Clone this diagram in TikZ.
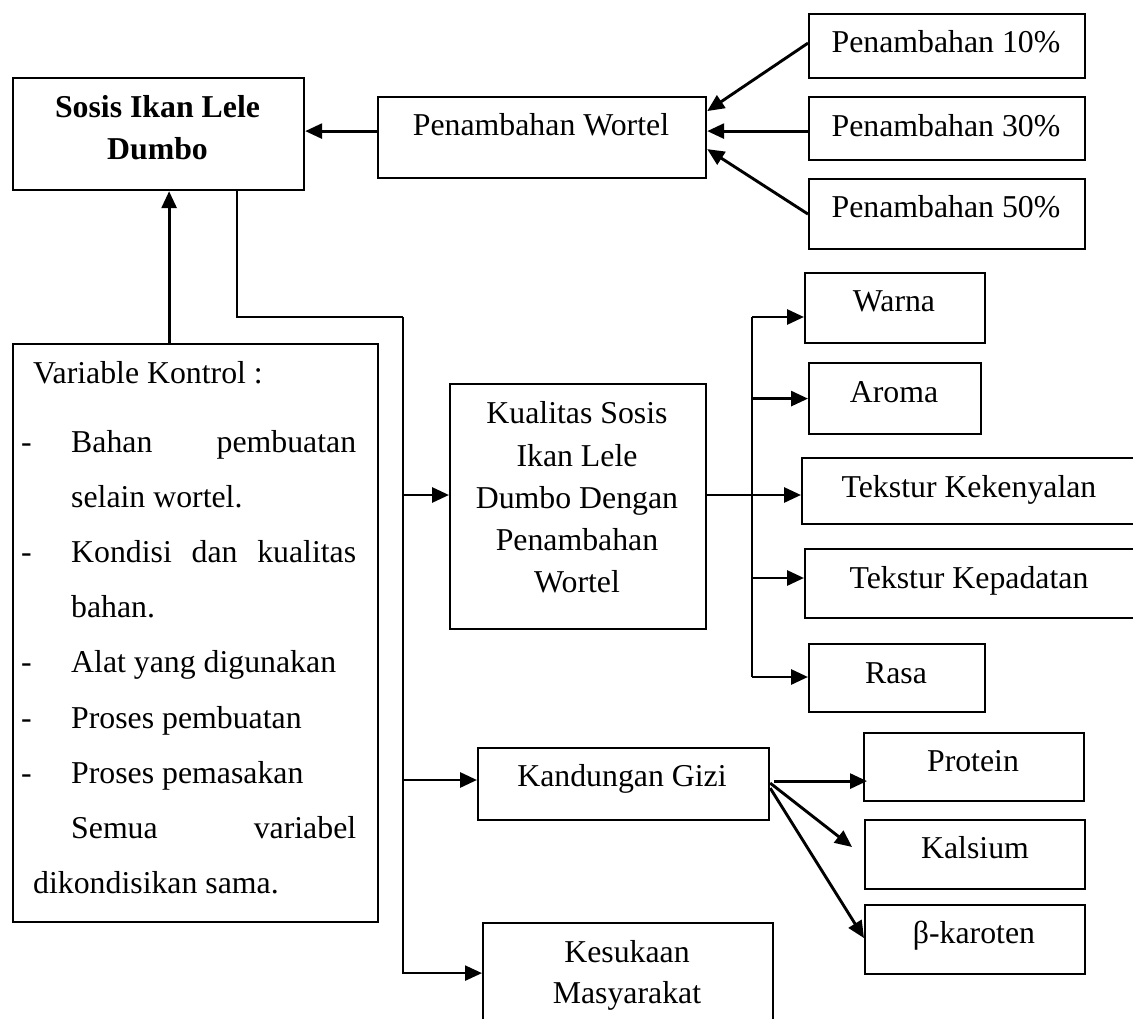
\documentclass[tikz,border=0pt]{standalone}
\usepackage{fontspec}
\setmainfont{Liberation Serif}
\usetikzlibrary{arrows.meta}
\tikzset{
  box/.style={draw, line width=2.2pt, inner sep=0pt, anchor=north west},
  txt/.style={inner sep=0pt, font=\fontsize{31.8}{40}\selectfont, anchor=base},
  ltxt/.style={txt, anchor=base west},
  conn/.style={line width=2.4pt},
  arr/.style={line width=2.9pt, -{Triangle[length=17pt,width=15pt]}},
}
\begin{document}
\begin{tikzpicture}[x=1pt,y=-1pt]
\useasboundingbox (0,0) rectangle (1133,1019);
\clip (0,0) rectangle (1133,1019);
\fill[white] (0,0) rectangle (1133,1019);

% boxes
\node[box, minimum width=291pt, minimum height=112pt] (sosis) at (12,77) {};
\node[box, minimum width=328pt, minimum height=81pt] (wortel) at (377,96) {};
\node[box, minimum width=276pt, minimum height=64pt] (p10) at (808,13) {};
\node[box, minimum width=276pt, minimum height=63pt] (p30) at (808,96) {};
\node[box, minimum width=276pt, minimum height=70pt] (p50) at (808,178) {};
\node[box, minimum width=365pt, minimum height=578pt] (var) at (12,343) {};
\node[box, minimum width=256pt, minimum height=245pt] (kual) at (449,383) {};
\node[box, minimum width=180pt, minimum height=70pt] (warna) at (804,272) {};
\node[box, minimum width=172pt, minimum height=71pt] (aroma) at (808,362) {};
\node[box, minimum width=344pt, minimum height=66pt] (tkk) at (801,457) {};
\node[box, minimum width=341pt, minimum height=69pt] (tkp) at (804,548) {};
\node[box, minimum width=176pt, minimum height=68pt] (rasa) at (808,643) {};
\node[box, minimum width=291pt, minimum height=72pt] (gizi) at (477,747) {};
\node[box, minimum width=220pt, minimum height=68pt] (protein) at (863,732) {};
\node[box, minimum width=220pt, minimum height=69pt] (kalsium) at (864,819) {};
\node[box, minimum width=220pt, minimum height=69pt] (beta) at (864,904) {};
\node[box, minimum width=290pt, minimum height=100pt] (kesukaan) at (482,922) {};

% texts
\node[txt] (s1) at (157.5,118) {\textbf{Sosis Ikan Lele}};
\node[txt] (s2) at (157.5,160) {\textbf{Dumbo}};
\node[txt] (tw) at (541,136) {Penambahan Wortel};
\node[txt] (t10) at (946,53) {Penambahan 10\%};
\node[txt] (t30) at (946,137) {Penambahan 30\%};
\node[txt] (t50) at (946,218) {Penambahan 50\%};

\node[ltxt] (v0) at (33,383) {Variable Kontrol :};
\node[ltxt] (d1) at (21,452) {-};
\node[ltxt] (v1) at (71,452) {\makebox[285pt][s]{Bahan pembuatan}};
\node[ltxt] (v2) at (71,507) {selain wortel.};
\node[ltxt] (d2) at (21,562) {-};
\node[ltxt] (v3) at (71,562) {\makebox[285pt][s]{Kondisi dan kualitas}};
\node[ltxt] (v4) at (71,617) {bahan.};
\node[ltxt] (d3) at (21,672) {-};
\node[ltxt] (v5) at (71,672) {Alat yang digunakan};
\node[ltxt] (d4) at (21,728) {-};
\node[ltxt] (v6) at (71,728) {Proses pembuatan};
\node[ltxt] (d5) at (21,783) {-};
\node[ltxt] (v7) at (71,783) {Proses pemasakan};
\node[ltxt] (v8) at (71,838) {\makebox[285pt][s]{Semua variabel}};
\node[ltxt] (v9) at (33,893) {dikondisikan sama.};

\node[txt] (k1) at (577,423) {Kualitas Sosis};
\node[txt] (k2) at (577,466) {Ikan Lele};
\node[txt] (k3) at (577,508) {Dumbo Dengan};
\node[txt] (k4) at (577,550) {Penambahan};
\node[txt] (k5) at (577,592) {Wortel};

\node[txt] (tw1) at (894,312) {Warna};
\node[txt] (ta1) at (894,402) {Aroma};
\node[txt] (tk1) at (969,497) {Tekstur Kekenyalan};
\node[txt] (tk2) at (969,588) {Tekstur Kepadatan};
\node[txt] (tr1) at (896,683) {Rasa};

\node[txt] (tg) at (622,786) {Kandungan Gizi};
\node[txt] (tp) at (973,771) {Protein};
\node[txt] (tc) at (975,858) {Kalsium};
\node[txt] (tb) at (974,943) {β-karoten};

\node[txt] (m1) at (627,962) {Kesukaan};
\node[txt] (m2) at (627,1003) {Masyarakat};

% coordinates
\coordinate (trunktop) at (403,317);
\coordinate (tk) at (403,495);
\coordinate (tg1) at (403,780);
\coordinate (bt) at (752,317);
\coordinate (bb) at (752,677);
\coordinate (bk) at (752,495);
\coordinate (bkp) at (752,578);
\coordinate (kaltip) at (852,847);

% connectors
\draw[arr] ([yshift=6.5pt]wortel.west) -- ([yshift=6.5pt]wortel.west -| sosis.east);
\draw[arr] ([yshift=3pt]p10.west) -- ([yshift=26.5pt]wortel.east);
\draw[arr] ([yshift=-2.5pt]p30.west) -- ([yshift=-2.5pt]p30.west -| wortel.east);
\draw[arr] (p50.west) -- ([yshift=-11.5pt]wortel.east);
\draw[arr] ([xshift=-26.5pt]var.north) -- ([xshift=-26.5pt]var.north |- sosis.south);

\draw[conn] ([xshift=78.5pt]sosis.south) |- (trunktop);
\draw[arr, line width=2.4pt] (trunktop) |- (kesukaan.west);
\draw[arr] (tk) -- (tk -| kual.west);
\draw[arr] (tg1) -- (tg1 -| gizi.west);

\draw[conn] (bt) -- (bb);
\draw[conn] (tk -| kual.east) -- (bk);
\draw[arr] (bt) -- (bt -| warna.west);
\draw[arr] (aroma.west -| bt) -- (aroma.west);
\draw[arr] (bk) -- (bk -| tkk.west);
\draw[arr] (bkp) -- (bkp -| tkp.west);
\draw[arr] (bb) -- (bb -| rasa.west);

\draw[arr] ([xshift=4pt,yshift=3pt]gizi.east) -- ([xshift=4pt,yshift=3pt]gizi.east -| protein.west);
\draw[arr] ([yshift=1pt]gizi.east) -- (kaltip);
\draw[arr] ([yshift=-4pt]gizi.east) -- ([yshift=1.5pt]beta.west);
\end{tikzpicture}
\end{document}
